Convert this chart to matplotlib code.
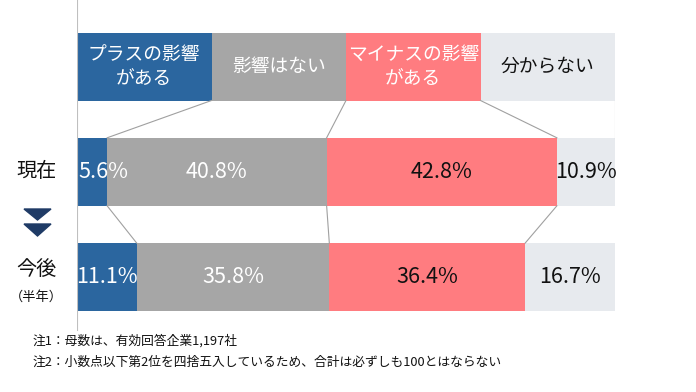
import matplotlib
matplotlib.use("Agg")
import matplotlib.pyplot as plt
import numpy as np

plt.rcParams['font.family'] = ['Noto Sans CJK JP', 'DejaVu Sans']

# data
categories = ['プラスの影響\nがある', '影響はない', 'マイナスの影響\nがある', '分からない']
rows = ['現在', '今後']
now_vals = [5.6, 40.8, 42.8, 10.9]
future_vals = [11.1, 35.8, 36.4, 16.7]
colors = ['#2B669F', '#A6A6A6', '#FF7C80', '#E7EAEE']
label_colors = ['white', 'white', '#111111', '#111111']
head_text_colors = ['white', 'white', 'white', '#111111']
notes = ['注1：母数は、有効回答企業1,197社',
         '注2：小数点以下第2位を四捨五入しているため、合計は必ずしも100とはならない']

W, H = 696, 392
fig = plt.figure(figsize=(W / 100, H / 100), dpi=100)

# axes: x in percent (0..100 -> px 77..615), y rows (header=0, rows=1,2)
ax = fig.add_axes([77 / W, 0, 538 / W, 1])
step = 105.3
y0px = 66.5
ax.set_xlim(0, 100)
ax.set_ylim((H - y0px) / step, -y0px / step)
ax.axis('off')
h = 68 / step

# header boxes
head_w = [25] * 4
head_left = np.cumsum([0] + head_w[:-1])
ax.barh(0, head_w, left=head_left, height=h, color=colors, edgecolor='none')
for i, lab in enumerate(categories):
    ax.text(head_left[i] + head_w[i] / 2, 0, lab, ha='center', va='center',
            fontsize=13.5, color=head_text_colors[i], linespacing=1.2)

# data rows
data = [now_vals, future_vals]
bounds = []
for r, vals in enumerate(data):
    y = r + 1
    left = np.cumsum([0] + vals[:-1])
    ax.barh(y, vals, left=left, height=h, color=colors, edgecolor='none')
    bounds.append(np.cumsum(vals)[:-1])
    for i, v in enumerate(vals):
        x = left[i] + v / 2
        ha = 'center'
        if v < 8:
            x, ha = left[i] + 0.2, 'left'
        ax.text(x, y, f'{v:.1f}%', ha=ha, va='center', fontsize=15.5,
                color=label_colors[i])

# connector lines
lc = '#A0A0A0'
head_b = np.cumsum(head_w)[:-1]
for xa, xb in zip(head_b, bounds[0]):
    ax.plot([xa, xb], [h / 2, 1 - h / 2], color=lc, lw=0.8)
for xa, xb in zip(bounds[0], bounds[1]):
    ax.plot([xa, xb], [1 + h / 2, 2 - h / 2], color=lc, lw=0.8)
ax.plot([0, 0], [-y0px / step, (330 - y0px) / step], color='#BFBFBF', lw=0.8)
ax.plot([100, 100], [h / 2, 1 - h / 2], color='#BFBFBF', lw=0.8)

# row labels
ax.text(-7.5, 1, rows[0], ha='center', va='center', fontsize=14.5, color='#111111')
ax.text(-7.5, 2 - 0.07, rows[1], ha='center', va='center', fontsize=14.5, color='#111111')
ax.text(-7.5, 2 + 0.19, '（半年）', ha='center', va='center', fontsize=9.5, color='#111111')

# down arrows
navy = '#1F3B66'
for top, bot in [(209, 220), (224, 236)]:
    tri = plt.Polygon([(24 / W, 1 - top / H), (51 / W, 1 - top / H), (37.5 / W, 1 - bot / H)],
                      closed=True, color=navy, transform=fig.transFigure)
    fig.patches.append(tri)

# notes
fig.text(33 / W, 1 - 341 / H, notes[0], ha='left', va='center', fontsize=9.2, color='#111111')
fig.text(33 / W, 1 - 362 / H, notes[1], ha='left', va='center', fontsize=9.2, color='#111111')

fig.savefig('out.png', dpi=100)
